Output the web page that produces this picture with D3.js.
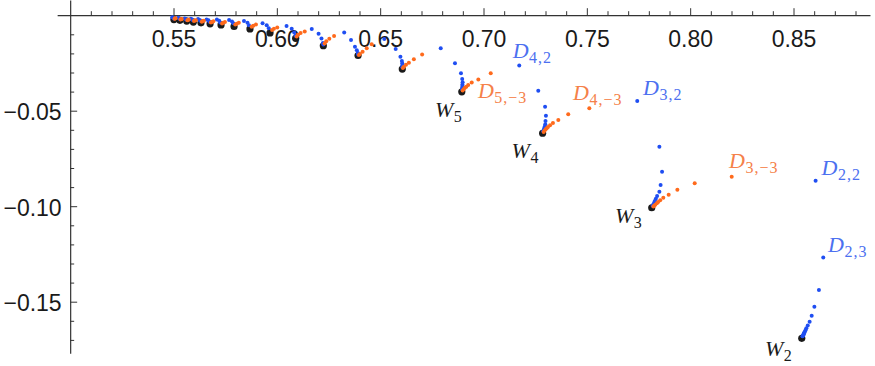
<!DOCTYPE html>
<html>
<head>
<meta charset="utf-8">
<script src="https://cdn.jsdelivr.net/npm/d3@7"></script>
<style>
  body { margin: 0; background: #fff; }
  svg { display: block; }
</style>
</head>
<body>
<svg id="chart" width="875" height="366"></svg>
<script>
// W_n points: [n, x, y]
const wPoints = [
  [2, 0.8540, -0.1692], [3, 0.7814, -0.1008], [4, 0.7286, -0.0618],
  [5, 0.6895, -0.0401], [6, 0.6607, -0.0282], [7, 0.6393, -0.0211],
  [8, 0.6225, -0.0160], [9, 0.6091, -0.0121], [10, 0.5967, -0.0093],
  [11, 0.5870, -0.0072], [12, 0.5793, -0.0059], [13, 0.5730, -0.0051],
  [14, 0.5677, -0.0045], [15, 0.5633, -0.0040], [16, 0.5596, -0.0036],
  [17, 0.5564, -0.0031], [18, 0.5531, -0.0027], [19, 0.5502, -0.0023]
];

// D_{n,k}, k > 0 (blue): [n, k, x, y]
const bluePoints = [
  [2, 2, 0.8607, -0.0867], [2, 3, 0.8644, -0.1268], [2, 4, 0.8623, -0.1439],
  [2, 5, 0.8601, -0.1526], [2, 6, 0.8588, -0.1573], [2, 7, 0.8578, -0.1605],
  [2, 8, 0.8569, -0.1625], [2, 9, 0.8562, -0.1639], [2, 10, 0.8558, -0.1649],
  [2, 11, 0.8555, -0.1657], [2, 12, 0.8552, -0.1662], [2, 13, 0.8550, -0.1667],
  [2, 14, 0.8549, -0.1670], [2, 16, 0.8547, -0.1675], [2, 18, 0.8545, -0.1679],
  [2, 20, 0.8543, -0.1681],
  [3, 2, 0.7744, -0.0449], [3, 3, 0.7851, -0.0689], [3, 4, 0.7864, -0.0819],
  [3, 5, 0.7857, -0.0889], [3, 6, 0.7851, -0.0924], [3, 7, 0.7840, -0.0947],
  [3, 8, 0.7834, -0.0961], [3, 9, 0.7830, -0.0971], [3, 10, 0.7827, -0.0978],
  [3, 12, 0.7824, -0.0987], [3, 14, 0.7821, -0.0993], [3, 17, 0.7818, -0.0997],
  [4, 2, 0.7173, -0.0264], [4, 3, 0.7265, -0.0395], [4, 4, 0.7298, -0.0479],
  [4, 5, 0.7302, -0.0526], [4, 6, 0.7300, -0.0554], [4, 7, 0.7299, -0.0571],
  [4, 8, 0.7297, -0.0582], [4, 9, 0.7295, -0.0590], [4, 10, 0.7294, -0.0595],
  [4, 12, 0.7291, -0.0602], [4, 15, 0.7289, -0.0608],
  [5, 2, 0.6793, -0.0173], [5, 3, 0.6862, -0.0252], [5, 4, 0.6891, -0.0304],
  [5, 5, 0.6897, -0.0334], [5, 6, 0.6899, -0.0351], [5, 7, 0.6898, -0.0363],
  [5, 8, 0.6898, -0.0371], [5, 10, 0.6897, -0.0380], [5, 13, 0.6896, -0.0388],
  [6, 2, 0.6520, -0.0125], [6, 3, 0.6575, -0.0177], [6, 4, 0.6598, -0.0217],
  [6, 5, 0.6605, -0.0240], [6, 6, 0.6607, -0.0252], [6, 8, 0.6607, -0.0264],
  [6, 11, 0.6607, -0.0272],
  [7, 2, 0.6326, -0.0090], [7, 3, 0.6359, -0.0130], [7, 4, 0.6378, -0.0165],
  [7, 5, 0.6387, -0.0184], [7, 7, 0.6392, -0.0198], [7, 10, 0.6393, -0.0206],
  [8, 2, 0.6169, -0.0072], [8, 3, 0.6202, -0.0097], [8, 4, 0.6216, -0.0122],
  [8, 6, 0.6223, -0.0145], [8, 9, 0.6225, -0.0154],
  [9, 2, 0.6047, -0.0057], [9, 3, 0.6072, -0.0071], [9, 4, 0.6084, -0.0090],
  [9, 6, 0.6090, -0.0108],
  [10, 2, 0.5931, -0.0042], [10, 3, 0.5951, -0.0053], [10, 4, 0.5961, -0.0068],
  [11, 2, 0.5841, -0.0030], [11, 3, 0.5858, -0.0040], [11, 4, 0.5865, -0.0052],
  [12, 2, 0.5769, -0.0025], [12, 3, 0.5783, -0.0033], [12, 4, 0.5789, -0.0042],
  [13, 2, 0.5710, -0.0023], [13, 3, 0.5721, -0.0029], [13, 4, 0.5726, -0.0038],
  [14, 2, 0.5660, -0.0022], [14, 3, 0.5669, -0.0027], [14, 4, 0.5674, -0.0034],
  [15, 2, 0.5619, -0.0020], [15, 3, 0.5627, -0.0025], [15, 4, 0.5631, -0.0030],
  [16, 2, 0.5584, -0.0018], [16, 3, 0.5590, -0.0022], [16, 4, 0.5594, -0.0027],
  [17, 2, 0.5554, -0.0017], [17, 3, 0.5560, -0.0020], [17, 4, 0.5562, -0.0024],
  [18, 2, 0.5523, -0.0014], [18, 3, 0.5528, -0.0017], [18, 4, 0.5530, -0.0020],
  [19, 2, 0.5494, -0.0011], [19, 3, 0.5499, -0.0014], [19, 4, 0.5501, -0.0017]
];

// D_{n,k}, k < 0 (orange): [n, k, x, y]
const orangePoints = [
  [3, -3, 0.8201, -0.0846], [3, -4, 0.8022, -0.0880], [3, -5, 0.7938, -0.0914],
  [3, -6, 0.7896, -0.0940], [3, -7, 0.7870, -0.0956], [3, -8, 0.7855, -0.0969],
  [3, -9, 0.7845, -0.0978], [3, -10, 0.7839, -0.0984], [3, -12, 0.7831, -0.0992],
  [3, -14, 0.7826, -0.0997], [3, -17, 0.7822, -0.1001],
  [4, -3, 0.7512, -0.0487], [4, -4, 0.7410, -0.0519], [4, -5, 0.7362, -0.0549],
  [4, -6, 0.7336, -0.0564], [4, -7, 0.7322, -0.0576], [4, -8, 0.7312, -0.0585],
  [4, -9, 0.7306, -0.0592], [4, -10, 0.7301, -0.0597], [4, -12, 0.7296, -0.0604],
  [4, -15, 0.7291, -0.0611],
  [5, -3, 0.7035, -0.0304], [5, -4, 0.6975, -0.0336], [5, -5, 0.6943, -0.0353],
  [5, -6, 0.6926, -0.0365], [5, -7, 0.6917, -0.0374], [5, -8, 0.6910, -0.0380],
  [5, -10, 0.6904, -0.0388], [5, -13, 0.6899, -0.0394],
  [6, -3, 0.6703, -0.0206], [6, -4, 0.6663, -0.0230], [6, -5, 0.6639, -0.0249],
  [6, -6, 0.6625, -0.0259], [6, -8, 0.6615, -0.0270], [6, -11, 0.6610, -0.0276],
  [7, -3, 0.6459, -0.0152], [7, -4, 0.6435, -0.0173], [7, -5, 0.6415, -0.0191],
  [7, -7, 0.6402, -0.0203], [7, -10, 0.6397, -0.0208],
  [8, -3, 0.6277, -0.0109], [8, -4, 0.6254, -0.0123], [8, -5, 0.6239, -0.0136],
  [8, -7, 0.6231, -0.0148],
  [9, -3, 0.6135, -0.0085], [9, -4, 0.6115, -0.0093], [9, -5, 0.6103, -0.0102],
  [9, -7, 0.6096, -0.0111],
  [10, -3, 0.6002, -0.0065], [10, -4, 0.5986, -0.0071], [10, -5, 0.5977, -0.0078],
  [11, -3, 0.5899, -0.0049], [11, -4, 0.5886, -0.0055], [11, -5, 0.5878, -0.0060],
  [12, -3, 0.5816, -0.0040], [12, -4, 0.5806, -0.0045], [12, -5, 0.5799, -0.0049],
  [13, -3, 0.5749, -0.0036], [13, -4, 0.5740, -0.0039], [13, -5, 0.5735, -0.0043],
  [14, -3, 0.5693, -0.0032], [14, -4, 0.5686, -0.0035], [14, -5, 0.5681, -0.0038],
  [15, -3, 0.5647, -0.0029], [15, -4, 0.5641, -0.0031], [15, -5, 0.5637, -0.0034],
  [16, -3, 0.5608, -0.0026], [16, -4, 0.5603, -0.0028], [16, -5, 0.5599, -0.0030],
  [17, -3, 0.5574, -0.0023], [17, -4, 0.5570, -0.0025], [17, -5, 0.5567, -0.0027],
  [18, -3, 0.5540, -0.0020], [18, -4, 0.5536, -0.0021], [18, -5, 0.5534, -0.0023],
  [19, -3, 0.5510, -0.0016], [19, -4, 0.5507, -0.0017], [19, -5, 0.5505, -0.0019]
];

// callout labels, anchored in data units (left edge, baseline)
const labels = [
  {base: "D", sub: "4,2",  color: "blue",   x: 0.7141, y: -0.0223},
  {base: "D", sub: "5,−3", color: "orange", x: 0.6973, y: -0.0435},
  {base: "D", sub: "4,−3", color: "orange", x: 0.7433, y: -0.0444},
  {base: "D", sub: "3,2",  color: "blue",   x: 0.7772, y: -0.0418},
  {base: "D", sub: "3,−3", color: "orange", x: 0.8188, y: -0.0802},
  {base: "D", sub: "2,2",  color: "blue",   x: 0.8636, y: -0.0837},
  {base: "D", sub: "2,3",  color: "blue",   x: 0.8667, y: -0.1238},
  {base: "W", sub: "5",    color: "black",  x: 0.6765, y: -0.0531},
  {base: "W", sub: "4",    color: "black",  x: 0.7136, y: -0.0749},
  {base: "W", sub: "3",    color: "black",  x: 0.7636, y: -0.1090},
  {base: "W", sub: "2",    color: "black",  x: 0.8362, y: -0.1782}
];

const xMajor = [0.55, 0.60, 0.65, 0.70, 0.75, 0.80, 0.85];
const yMajor = [-0.05, -0.10, -0.15];
const xMinor = d3.range(51, 89).map(i => i / 100).filter(v => !xMajor.some(m => Math.abs(m - v) < 1e-9));
const yMinor = d3.range(1, 18).map(i => -i / 100).filter(v => !yMajor.some(m => Math.abs(m - v) < 1e-9));

const colors = {
  blue: "#1f4ef2", orange: "#ff6a1c",
  blueText: "#4c70f0", orangeText: "#f5814a", black: "#1a1a1a"
};

const svg = d3.select("#chart");

const x = d3.scaleLinear().domain([0.55, 0.85]).range([173.5, 793.5]);
const y = d3.scaleLinear().domain([0, -0.15]).range([15.2, 301.7]);

// axis lines run a bit past the data
const xExt = [0.4937, 0.887];
const yExt = [0.008, -0.177];
const xAxisScale = x.copy().domain(xExt).range(xExt.map(x));
const yAxisScale = y.copy().domain(yExt).range(yExt.map(y));

function styleAxis(g) {
  g.select(".domain").attr("stroke", "#333").attr("stroke-width", 1.2);
  g.selectAll(".tick line").attr("stroke", "#333").attr("stroke-width", 1);
  g.selectAll(".tick text")
    .attr("fill", "#1a1a1a")
    .style("font-family", "'Liberation Sans', Arial, sans-serif")
    .style("font-size", "23px");
}

// x axis (at y = 0), ticks pointing up, labels below
svg.append("g")
    .attr("transform", `translate(0,${y(0)})`)
    .call(d3.axisBottom(xAxisScale).tickValues(xMinor).tickSizeInner(-4).tickSizeOuter(0).tickFormat(""))
    .call(styleAxis);

svg.append("g")
    .attr("transform", `translate(0,${y(0)})`)
    .call(d3.axisBottom(xAxisScale).tickValues(xMajor).tickSizeInner(-7).tickSizeOuter(0)
      .tickPadding(15.2).tickFormat(d3.format(".2f")))
    .call(g => g.select(".domain").remove())
    .call(styleAxis);

// y axis (at x = 0.5), ticks pointing right, labels left
svg.append("g")
    .attr("transform", `translate(${x(0.5)},0)`)
    .call(d3.axisLeft(yAxisScale).tickValues(yMinor).tickSizeInner(-4).tickSizeOuter(0).tickFormat(""))
    .call(styleAxis);

svg.append("g")
    .attr("transform", `translate(${x(0.5)},0)`)
    .call(d3.axisLeft(yAxisScale).tickValues(yMajor).tickSizeInner(-7).tickSizeOuter(0)
      .tickPadding(8.5).tickFormat(d3.format(".2f")))
    .call(g => g.select(".domain").remove())
    .call(styleAxis)
    .call(g => g.selectAll(".tick text").attr("dy", "0.4em"));

// points: W first, then blue, then orange on top
svg.append("g").selectAll("circle")
  .data(wPoints)
  .join("circle")
    .attr("cx", d => x(d[1]))
    .attr("cy", d => y(d[2]))
    .attr("r", 3.6)
    .attr("fill", colors.black);

svg.append("g").selectAll("circle")
  .data(bluePoints)
  .join("circle")
    .attr("cx", d => x(d[2]))
    .attr("cy", d => y(d[3]))
    .attr("r", 2)
    .attr("fill", colors.blue);

svg.append("g").selectAll("circle")
  .data(orangePoints)
  .join("circle")
    .attr("cx", d => x(d[2]))
    .attr("cy", d => y(d[3]))
    .attr("r", 2)
    .attr("fill", colors.orange);

// labels
const lab = svg.append("g").selectAll("text")
  .data(labels)
  .join("text")
    .attr("x", d => x(d.x))
    .attr("y", d => y(d.y))
    .attr("fill", d => d.color === "blue" ? colors.blueText : d.color === "orange" ? colors.orangeText : colors.black)
    .style("font-family", "'Liberation Serif', 'Times New Roman', serif");

lab.append("tspan")
    .attr("font-style", "italic")
    .attr("font-size", 22)
    .text(d => d.base);

lab.append("tspan")
    .attr("font-size", 16)
    .attr("dy", 5)
    .attr("dx", 0.5)
    .attr("letter-spacing", 1)
    .text(d => d.sub);
</script>
</body>
</html>
